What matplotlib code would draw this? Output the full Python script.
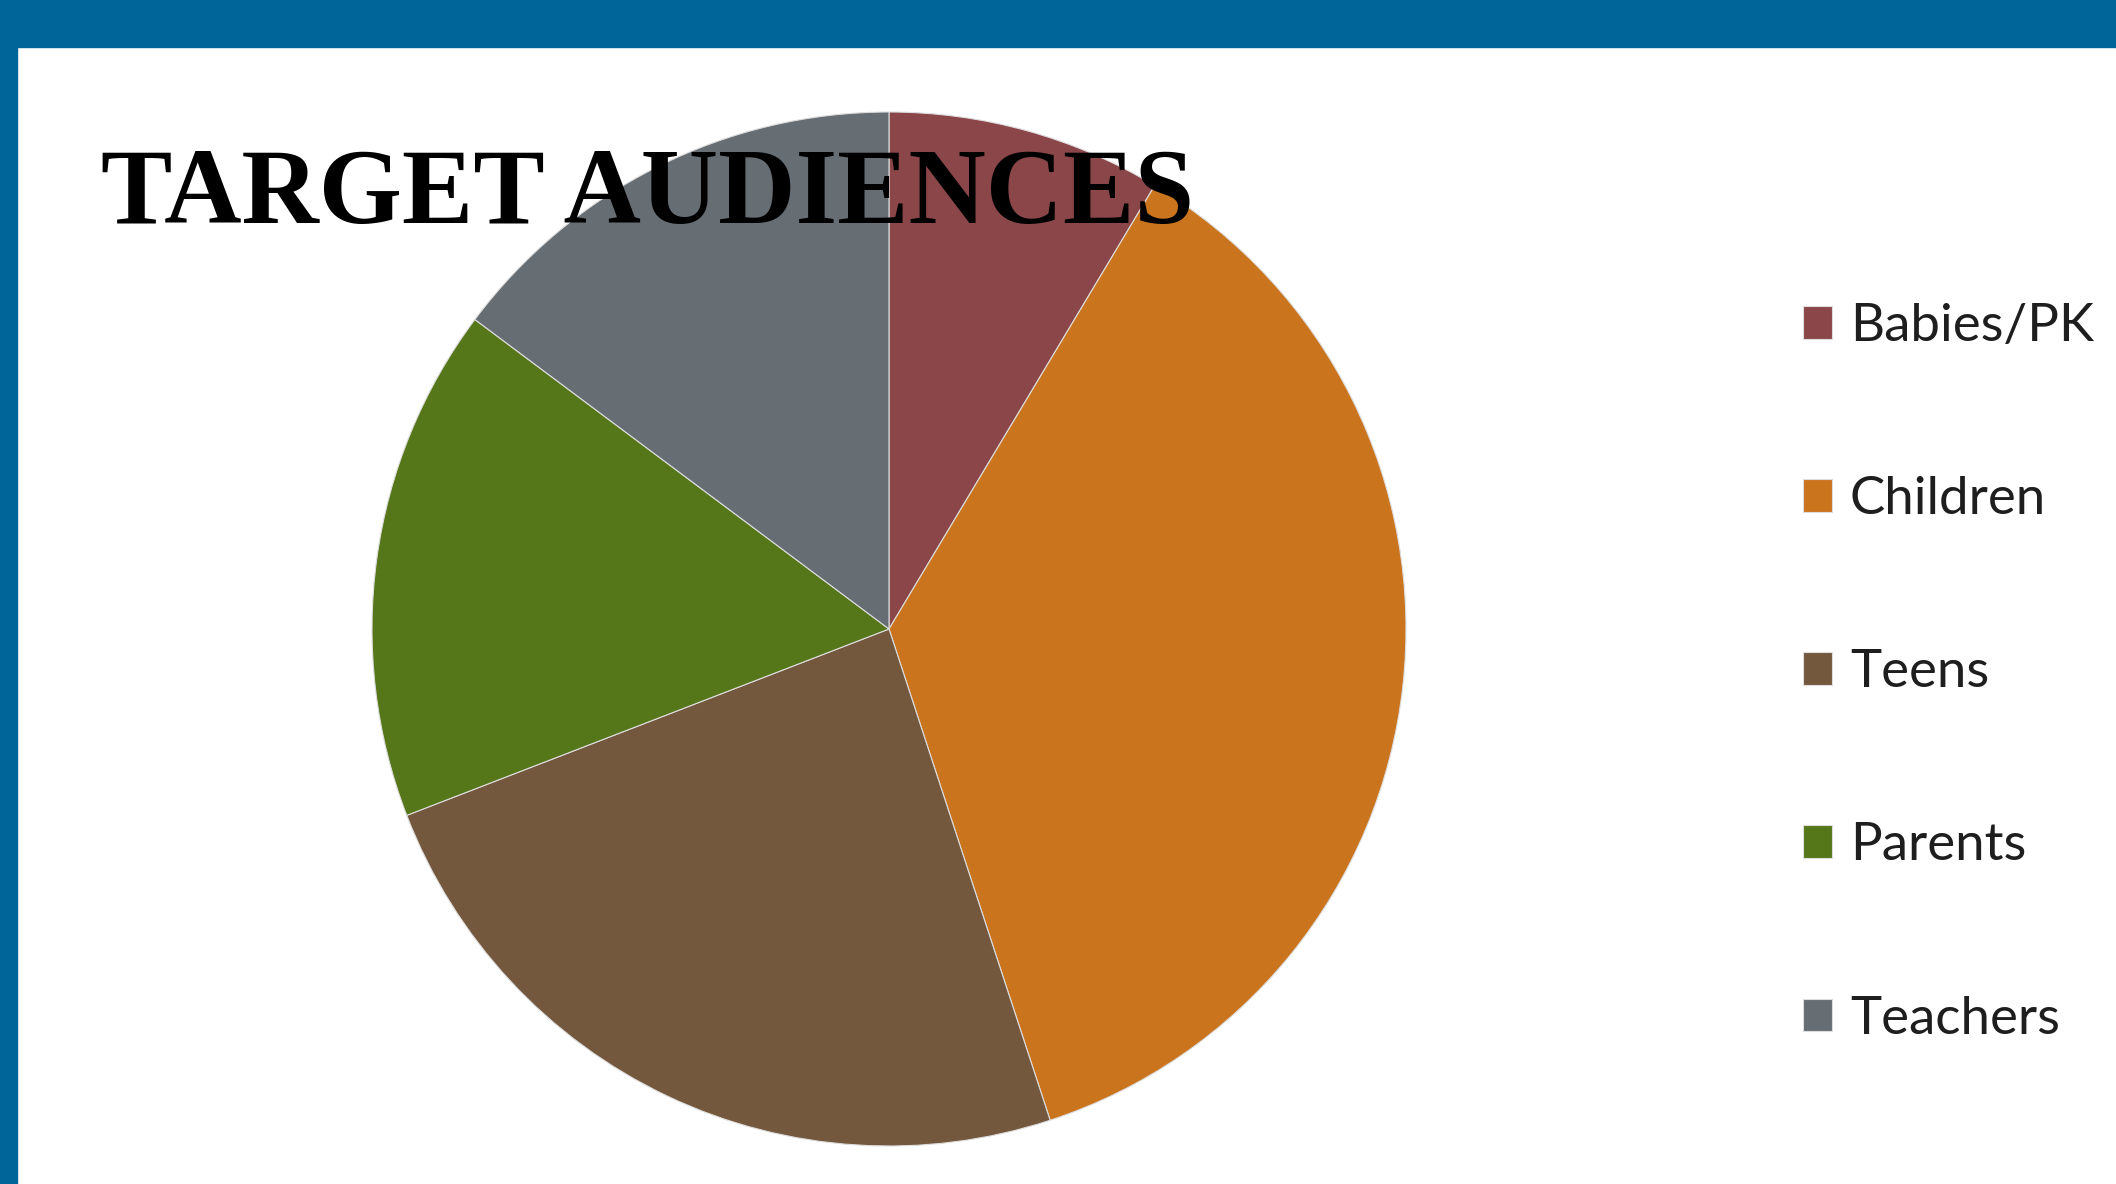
import matplotlib
matplotlib.use("Agg")
import matplotlib.pyplot as plt
from matplotlib.patches import Rectangle

# data (percent of total)
labels = ["Babies/PK", "Children", "Teens", "Parents", "Teachers"]
shares = [8.6, 36.4, 24.2, 16.1, 14.8]
colors = ["#8B4649", "#CB741E", "#74583E", "#56761A", "#666D73"]

W, H = 2116, 1184
DPI = 100
fig = plt.figure(figsize=(W / DPI, H / DPI), dpi=DPI)
fig.patch.set_facecolor("white")

# blue frame: top bar and left strip
fig.patches.append(Rectangle((0, 1 - 47 / H), 1, 47 / H, transform=fig.transFigure,
                             color="#006699", zorder=0))
fig.patches.append(Rectangle((0, 0), 17 / W, 1, transform=fig.transFigure,
                             color="#006699", zorder=0))

# pie axes positioned in pixels
cx, cy, r = 889, 629, 517
ax = fig.add_axes([(cx - r) / W, (H - cy - r) / H, 2 * r / W, 2 * r / H])
wedges, _ = ax.pie(shares, colors=colors, startangle=90, counterclock=False,
                   wedgeprops=dict(edgecolor="#dddddd", linewidth=0.8))
ax.set_xlim(-1, 1)
ax.set_ylim(-1, 1)
ax.set_aspect("equal")
ax.axis("off")

fig.text(101 / W, 1 - 223 / H, "TARGET AUDIENCES", family="Liberation Serif",
         weight="bold", fontsize=77, color="black", ha="left", va="baseline",
         zorder=10)

fig.legend(wedges, labels, loc="upper left", bbox_to_anchor=(1803 / W, 1 - 303 / H),
           frameon=False, prop=dict(family="Lato", size=38),
           labelcolor="#1e1e1e", handlelength=0.55, handleheight=0.58,
           handletextpad=0.34, labelspacing=2.39, borderaxespad=0, borderpad=0)

fig.savefig("out.png", dpi=DPI)
